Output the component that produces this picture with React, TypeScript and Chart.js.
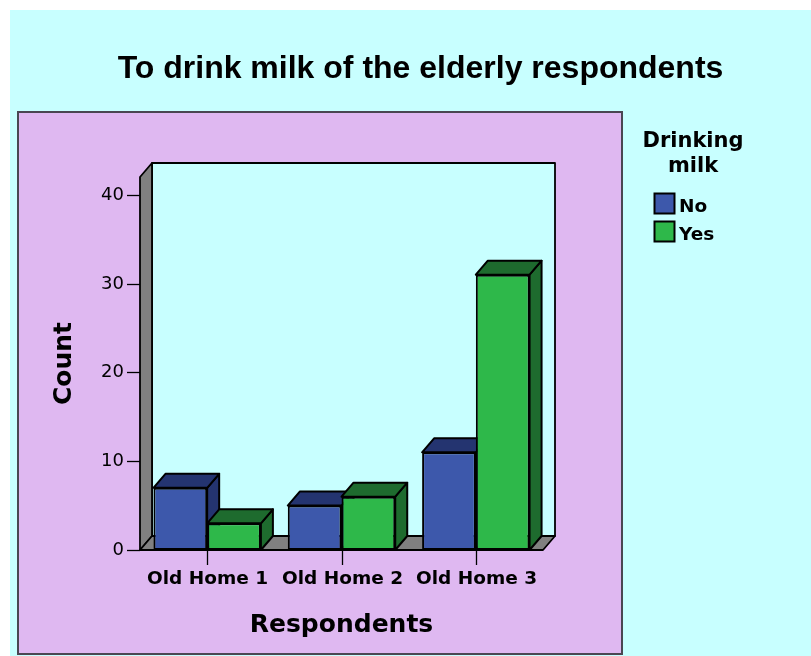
import React, { useEffect, useRef } from "react";
import { Chart, registerables } from "chart.js";
Chart.register(...registerables);

const TITLE = "To drink milk of the elderly respondents";
const CATEGORIES = ["Old Home 1", "Old Home 2", "Old Home 3"];
const SERIES_NAMES = ["No", "Yes"];
const NO_VALUES = [7, 5, 11];
const YES_VALUES = [3, 6, 31];
const Y_TICKS = [0, 10, 20, 30, 40];
const Y_MAX = 42;
const X_TITLE = "Respondents";
const Y_TITLE = "Count";
const LEGEND_TITLE = ["Drinking", "milk"];

const FRONT = ["#3D58AB", "#2EB84A"];
const DARK = ["#243470", "#1E6B2E"];
const CYAN = "#C8FFFF";
const PURPLE = "#DFB8F1";
const GREY = "#808080";
const DX = 12;
const DY = -14;
const SANS = '"DejaVu Sans", sans-serif';

const scenePlugin = {
  id: "scene3d",
  beforeDatasetsDraw(chart: any) {
    const ctx = chart.ctx as CanvasRenderingContext2D;
    const xs = chart.scales.x;
    const ys = chart.scales.y;
    const L = xs.left;
    const R = xs.right;
    const T = ys.getPixelForValue(Y_MAX);
    const B = ys.getPixelForValue(0);
    ctx.save();
    // frame
    ctx.fillStyle = PURPLE;
    ctx.fillRect(8, 102, 604, 542);
    ctx.strokeStyle = "#4a4652";
    ctx.lineWidth = 2;
    ctx.strokeRect(8, 102, 604, 542);

    // title
    ctx.fillStyle = "#000";
    ctx.font = 'bold 32px "Liberation Sans", Arial, sans-serif';
    ctx.textAlign = "center";
    ctx.textBaseline = "alphabetic";
    ctx.fillText(TITLE, chart.width / 2 + 10, 68);

    ctx.lineWidth = 1.8;
    ctx.lineJoin = "round";
    ctx.strokeStyle = "#000";
    // back wall
    ctx.fillStyle = CYAN;
    ctx.beginPath();
    ctx.rect(L + DX, T + DY, R - L, B - T);
    ctx.fill();
    ctx.stroke();
    // left wall
    ctx.fillStyle = GREY;
    ctx.beginPath();
    ctx.moveTo(L, B);
    ctx.lineTo(L, T);
    ctx.lineTo(L + DX, T + DY);
    ctx.lineTo(L + DX, B + DY);
    ctx.closePath();
    ctx.fill();
    ctx.stroke();
    // floor
    ctx.beginPath();
    ctx.moveTo(L, B);
    ctx.lineTo(R, B);
    ctx.lineTo(R + DX, B + DY);
    ctx.lineTo(L + DX, B + DY);
    ctx.closePath();
    ctx.fill();
    ctx.stroke();

    // y ticks
    ctx.lineWidth = 1.3;
    ctx.fillStyle = "#000";
    ctx.font = `18px ${SANS}`;
    ctx.textAlign = "right";
    ctx.textBaseline = "middle";
    Y_TICKS.forEach((v) => {
      const py = Math.round(ys.getPixelForValue(v)) + 0.5;
      ctx.beginPath();
      ctx.moveTo(L - 13, py);
      ctx.lineTo(L, py);
      ctx.stroke();
      ctx.fillText(String(v), L - 16, py);
    });

    // x ticks
    ctx.font = `bold 18.5px ${SANS}`;
    ctx.textAlign = "center";
    CATEGORIES.forEach((c, i) => {
      const px = Math.round(xs.getPixelForValue(i)) + 0.5;
      ctx.beginPath();
      ctx.moveTo(px, B);
      ctx.lineTo(px, B + 15);
      ctx.stroke();
      ctx.fillText(c, px, B + 29);
    });

    // axis titles
    ctx.font = `bold 25px ${SANS}`;
    ctx.fillText(X_TITLE, (L + R) / 2, B + 75);
    ctx.save();
    ctx.translate(54, (T + B) / 2);
    ctx.rotate(-Math.PI / 2);
    ctx.fillText(Y_TITLE, 0, 0);
    ctx.restore();

    // 3D depth faces of bars
    ctx.lineWidth = 2;
    for (let j = 0; j < CATEGORIES.length; j++) {
      chart.data.datasets.forEach((ds: any, i: number) => {
        const el = chart.getDatasetMeta(i).data[j];
        const { x, y, base, width } = el.getProps(["x", "y", "base", "width"], true);
        const l = x - width / 2;
        const r = x + width / 2;
        ctx.fillStyle = DARK[i];
        ctx.beginPath();
        ctx.moveTo(r, y);
        ctx.lineTo(r + DX, y + DY);
        ctx.lineTo(r + DX, base + DY);
        ctx.lineTo(r, base);
        ctx.closePath();
        ctx.fill();
        ctx.stroke();
        ctx.beginPath();
        ctx.moveTo(l, y);
        ctx.lineTo(l + DX, y + DY);
        ctx.lineTo(r + DX, y + DY);
        ctx.lineTo(r, y);
        ctx.closePath();
        ctx.fill();
        ctx.stroke();
      });
    }
    ctx.restore();
  },
  afterDraw(chart: any) {
    const ctx = chart.ctx as CanvasRenderingContext2D;
    ctx.save();
    ctx.fillStyle = "#000";
    ctx.textAlign = "center";
    ctx.textBaseline = "alphabetic";
    ctx.font = `bold 21px ${SANS}`;
    LEGEND_TITLE.forEach((t, k) => ctx.fillText(t, 683, 137 + k * 25));
    ctx.font = `bold 18.5px ${SANS}`;
    ctx.textAlign = "left";
    chart.data.datasets.forEach((ds: any, i: number) => {
      const top = 183 + i * 28;
      ctx.fillStyle = FRONT[i];
      ctx.fillRect(644.5, top + 0.5, 20, 20);
      ctx.strokeStyle = "#000";
      ctx.lineWidth = 2;
      ctx.strokeRect(644.5, top + 0.5, 20, 20);
      ctx.fillStyle = "#000";
      ctx.fillText(ds.label, 669, top + 19);
    });
    ctx.restore();
  },
};

export default function App() {
  const ref = useRef<HTMLCanvasElement | null>(null);
  useEffect(() => {
    if (!ref.current) return;
    const chart = new Chart(ref.current, {
      type: "bar",
      data: {
        labels: CATEGORIES,
        datasets: [
          {
            label: SERIES_NAMES[0],
            data: NO_VALUES,
            backgroundColor: FRONT[0],
            borderColor: "#000",
            borderWidth: 2,
            borderSkipped: false,
            categoryPercentage: 0.8,
            barPercentage: 1,
          },
          {
            label: SERIES_NAMES[1],
            data: YES_VALUES,
            backgroundColor: FRONT[1],
            borderColor: "#000",
            borderWidth: 2,
            borderSkipped: false,
            categoryPercentage: 0.8,
            barPercentage: 1,
          },
        ],
      },
      options: {
        responsive: false,
        animation: false,
        layout: { padding: { left: 130, right: 268, top: 167, bottom: 106 } },
        scales: {
          x: { display: false },
          y: { display: false, min: 0, max: Y_MAX },
        },
        plugins: {
          legend: { display: false },
          title: { display: false },
          tooltip: { enabled: false },
        },
      },
      plugins: [scenePlugin],
    } as any);
    return () => chart.destroy();
  }, []);
  return (
    <div
      style={{
        position: "absolute",
        left: 10,
        top: 10,
        width: 801,
        height: 646,
        background: CYAN,
        overflow: "hidden",
      }}
    >
      <canvas ref={ref} width={801} height={646} style={{ display: "block" }} />
    </div>
  );
}
